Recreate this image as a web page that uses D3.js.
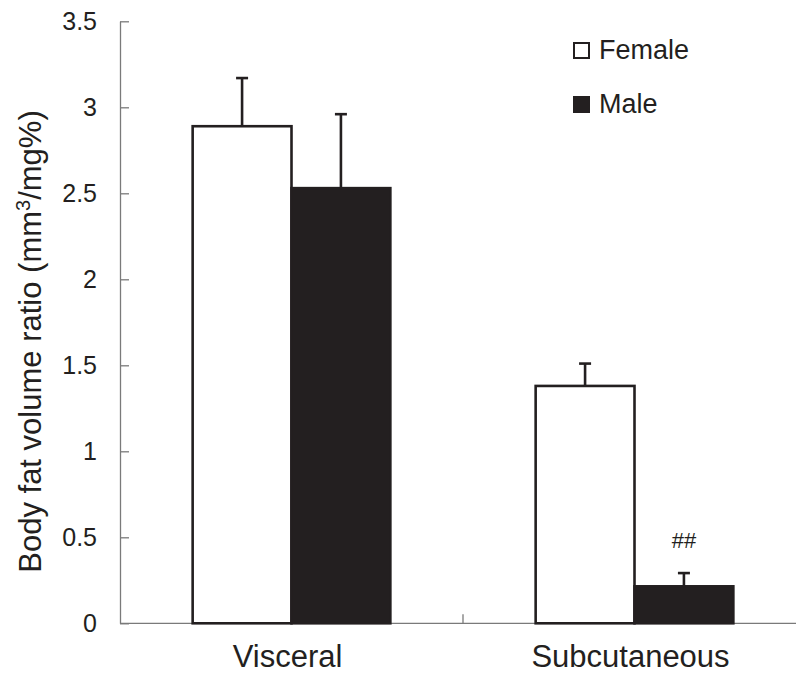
<!DOCTYPE html>
<html>
<head>
<meta charset="utf-8">
<script src="https://cdn.jsdelivr.net/npm/d3@7"></script>
<style>
    body { margin: 0; background: #fff; }
    text { font-family: "Liberation Sans", Arial, sans-serif; fill: #231f20; }
</style>
</head>
<body>
<script>
//data
var categories = ["Visceral", "Subcutaneous"];
var groups = ["Female", "Male"];
var femaleMean = [2.89, 1.38];
var femaleErr = [0.28, 0.13];
var maleMean = [2.53, 0.215];
var maleErr = [0.43, 0.077];
var markers = ["", "##"]; //significance mark above the male bar
var yTicks = [0, 0.5, 1, 1.5, 2, 2.5, 3, 3.5];

window.onload = function(){
    var w = 796, h = 674;
    var ink = "#231f20", axisColor = "#7a7a7a";

    var svg = d3.select("body")
        .append("svg")
        .attr("width", w)
        .attr("height", h)
        .attr("class", "container");

    /**** scales ****/
    var x = d3.scaleBand()
        .domain(categories)
        .range([120, 806])
        .paddingInner(0)
        .paddingOuter(0);

    var xSub = d3.scaleBand()
        .domain(groups)
        .range([0, x.bandwidth()])
        .paddingInner(0)
        .paddingOuter(0.735);

    var y = d3.scaleLinear()
        .domain([0, 3.5])
        .range([623.3, 21.3]);

    //rows for each bar
    var rows = [];
    categories.forEach(function(c, i){
        rows.push({cat: c, group: "Female", mean: femaleMean[i], err: femaleErr[i], mark: ""});
        rows.push({cat: c, group: "Male", mean: maleMean[i], err: maleErr[i], mark: markers[i]});
    });

    /**** axes ****/
    var yAxis = d3.axisLeft(y)
        .tickValues(yTicks)
        .tickFormat(d3.format("~g"))
        .tickSizeInner(-9)
        .tickSizeOuter(0)
        .tickPadding(23);

    var yg = svg.append("g")
        .attr("class", "y axis")
        .attr("transform", "translate(120,0)")
        .call(yAxis);
    yg.select(".domain").attr("stroke", axisColor).attr("stroke-width", 1.3);
    yg.selectAll(".tick line").attr("stroke", axisColor).attr("stroke-width", 1.3);
    yg.selectAll(".tick text")
        .style("font-size", "25px")
        .attr("fill", ink)
        .style("fill", ink);

    //x axis line with a tick between the categories
    var xg = svg.append("g").attr("class", "x axis");
    xg.append("line")
        .attr("x1", x.range()[0])
        .attr("x2", x.range()[1])
        .attr("y1", y(0))
        .attr("y2", y(0))
        .attr("stroke", axisColor)
        .attr("stroke-width", 1.3);
    xg.selectAll(".xtick")
        .data(categories.slice(1))
        .enter()
        .append("line")
        .attr("class", "xtick")
        .attr("x1", function(d){ return x(d); })
        .attr("x2", function(d){ return x(d); })
        .attr("y1", y(0))
        .attr("y2", y(0) - 9)
        .attr("stroke", axisColor)
        .attr("stroke-width", 1.3);
    xg.selectAll(".xlabel")
        .data(categories)
        .enter()
        .append("text")
        .attr("class", "xlabel")
        .attr("text-anchor", "middle")
        .attr("x", function(d){ return x(d) + x.bandwidth() / 2 - 4; })
        .attr("y", 667)
        .style("font-size", "31px")
        .text(function(d){ return d; });

    /**** bars ****/
    var bars = svg.selectAll(".bar")
        .data(rows)
        .enter()
        .append("rect")
        .attr("class", "bar")
        .attr("x", function(d){ return x(d.cat) + xSub(d.group); })
        .attr("y", function(d){ return y(d.mean); })
        .attr("width", xSub.bandwidth())
        .attr("height", function(d){ return y(0) - y(d.mean); })
        .style("fill", function(d){ return d.group == "Female" ? "#fff" : ink; })
        .style("stroke", ink)
        .style("stroke-width", 2.6);

    //error bars (upper only)
    var err = svg.selectAll(".err")
        .data(rows)
        .enter()
        .append("g")
        .attr("class", "err")
        .attr("transform", function(d){
            return "translate(" + (x(d.cat) + xSub(d.group) + xSub.bandwidth() / 2) + ",0)";
        });
    err.append("line")
        .attr("x1", 0).attr("x2", 0)
        .attr("y1", function(d){ return y(d.mean); })
        .attr("y2", function(d){ return y(d.mean + d.err); })
        .attr("stroke", ink)
        .attr("stroke-width", 2.6);
    err.append("line")
        .attr("x1", -6).attr("x2", 6)
        .attr("y1", function(d){ return y(d.mean + d.err); })
        .attr("y2", function(d){ return y(d.mean + d.err); })
        .attr("stroke", ink)
        .attr("stroke-width", 2.6);
    err.append("text")
        .attr("text-anchor", "middle")
        .attr("y", function(d){ return y(d.mean + d.err) - 25; })
        .style("font-size", "22px")
        .text(function(d){ return d.mark; });

    /**** y title ****/
    var title = svg.append("text")
        .attr("class", "ytitle")
        .attr("text-anchor", "middle")
        .attr("transform", "translate(41,341.5) rotate(-90)")
        .style("font-size", "31px");
    title.append("tspan").text("Body fat volume ratio (mm");
    title.append("tspan")
        .attr("baseline-shift", "super")
        .style("font-size", "20px")
        .text("3");
    title.append("tspan").text("/mg%)");

    /**** legend ****/
    var legend = svg.selectAll(".legend")
        .data(groups)
        .enter()
        .append("g")
        .attr("class", "legend")
        .attr("transform", function(d, i){ return "translate(573," + (59 + i * 54) + ")"; });
    legend.append("rect")
        .attr("x", 1)
        .attr("y", -16)
        .attr("width", 15)
        .attr("height", 15)
        .style("fill", function(d){ return d == "Female" ? "#fff" : ink; })
        .style("stroke", ink)
        .style("stroke-width", 2);
    legend.append("text")
        .attr("x", 26)
        .attr("y", 0)
        .style("font-size", "27px")
        .text(function(d){ return d; });
};
</script>
</body>
</html>
